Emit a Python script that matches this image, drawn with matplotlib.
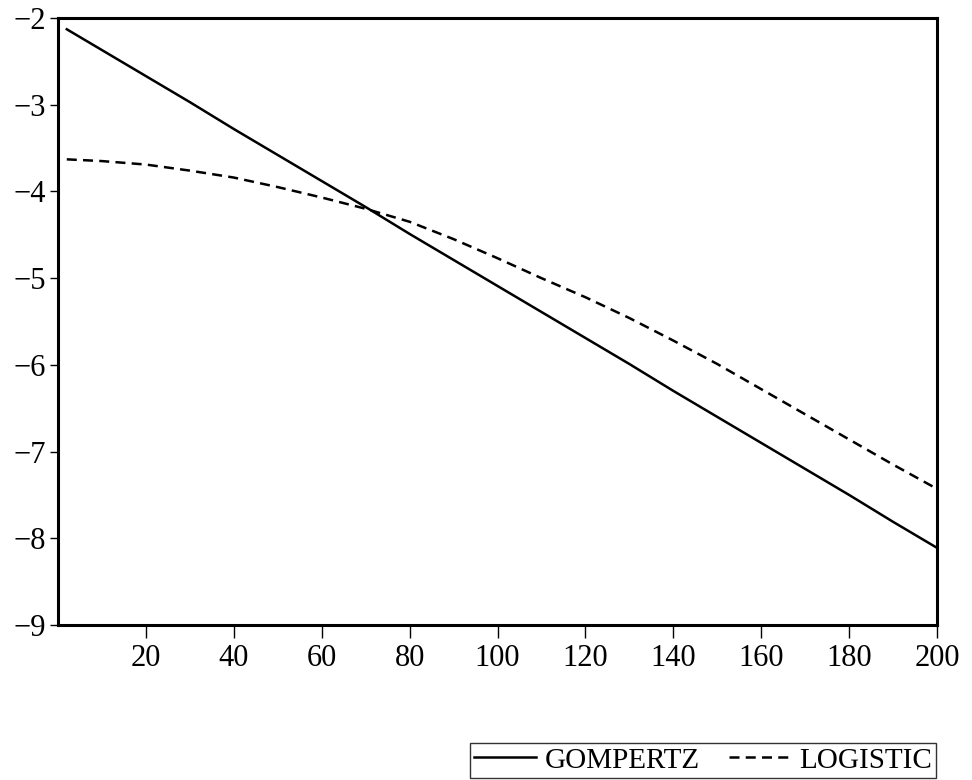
import matplotlib
matplotlib.use('Agg')
import matplotlib.pyplot as plt

plt.rcParams['font.family'] = ['Liberation Serif', 'DejaVu Serif']

# values
x = [2, 10, 20, 30, 40, 50, 60, 70, 80, 90, 100, 110, 120, 130, 140,
     150, 160, 170, 180, 190, 200]
gompertz = [-2.13, -2.37, -2.67, -2.97, -3.28, -3.58, -3.88, -4.18, -4.49,
            -4.79, -5.09, -5.39, -5.69, -5.99, -6.30, -6.60, -6.90, -7.20,
            -7.50, -7.81, -8.11]
logistic = [-3.63, -3.65, -3.69, -3.76, -3.84, -3.95, -4.07, -4.20, -4.35,
            -4.55, -4.77, -5.00, -5.22, -5.46, -5.72, -5.99, -6.28, -6.57,
            -6.86, -7.15, -7.43]

xticks = [20, 40, 60, 80, 100, 120, 140, 160, 180, 200]
yticks = [-9, -8, -7, -6, -5, -4, -3, -2]

fig = plt.figure(figsize=(9.72, 7.8), dpi=100)
ax = fig.add_axes([58 / 972, 155 / 780, 879 / 972, 607 / 780])

l1, = ax.plot(x, gompertz, color='black', lw=1.8, ls='-')
l2, = ax.plot(x, logistic, color='black', lw=1.8, ls=(0, (4, 2.5)))

ax.set_xlim(0, 200)
ax.set_ylim(-9, -2)
ax.set_xticks(xticks)
ax.set_yticks(yticks)
ax.set_yticklabels(['\u2212' + str(-v) for v in yticks])
ax.tick_params(direction='out', width=1, labelsize=22)
ax.tick_params(axis='x', length=9, pad=5)
ax.tick_params(axis='y', length=6, pad=3)

for s in ax.spines.values():
    s.set_linewidth(2.2)

fig.legend([l1, l2], ['GOMPERTZ', 'LOGISTIC'], ncol=2,
           loc='lower right', bbox_to_anchor=(936 / 972, 2 / 780),
           frameon=True, fancybox=False, edgecolor='black',
           fontsize=21, handlelength=2.1, columnspacing=1.0,
           handletextpad=0.3, borderpad=0.15, borderaxespad=0)

fig.savefig('out.png', dpi=100)
